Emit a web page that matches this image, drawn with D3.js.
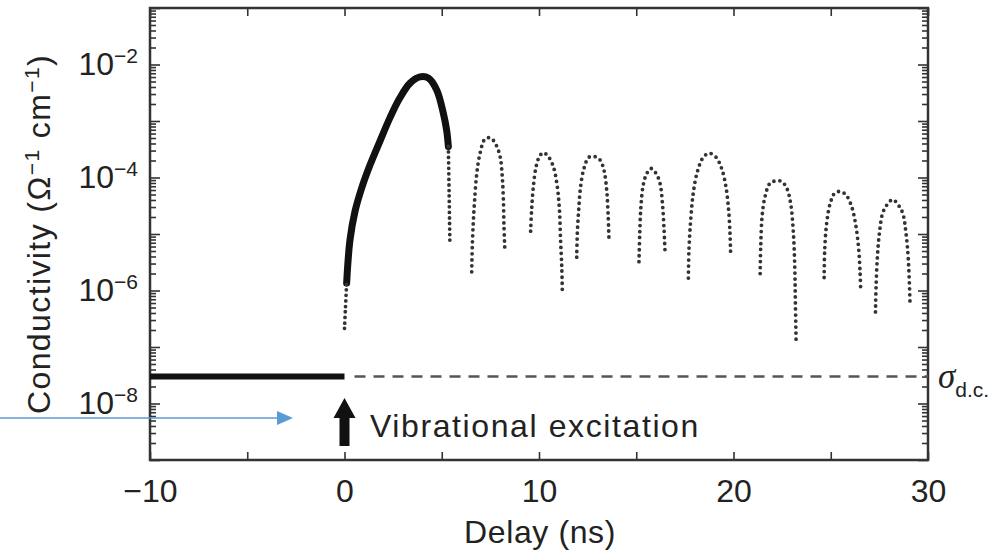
<!DOCTYPE html>
<html>
<head>
<meta charset="utf-8">
<script src="https://cdn.jsdelivr.net/npm/d3@7"></script>
<style>
  body { margin: 0; background: #fff; }
  text { font-family: "Liberation Sans", Arial, sans-serif; fill: #222; }
</style>
</head>
<body>
<div id="chart_div"></div>
<script>
// values (delay in ns, conductivity as log10 of Ohm^-1 cm^-1)
var sigmaDC = 3e-8;

var xTicks = [-10, -5, 0, 5, 10, 15, 20, 25, 30];
var yLabelExps = [-2, -4, -6, -8];

// main pulse: dotted foot, thick body, dotted tail
var footDelay = [0.0, 0.05, 0.11];
var footLog = [-6.67, -6.30, -5.87];
var peakDelay = [0.11, 0.28, 0.54, 0.88, 1.31, 1.83, 2.34, 2.85, 3.37, 3.88, 4.31, 4.74, 5.08, 5.25, 5.34];
var peakLog = [-5.87, -5.11, -4.60, -4.19, -3.78, -3.35, -2.94, -2.59, -2.33, -2.22, -2.24, -2.45, -2.86, -3.16, -3.45];
var tailDelay = [5.34, 5.38, 5.42];
var tailLog = [-3.45, -4.30, -5.19];

// the later dotted arches
var archDelays = [
  [6.54, 6.57, 6.62, 6.69, 6.80, 6.97, 7.22, 7.51, 7.79, 8.00, 8.11, 8.17, 8.20, 8.25],
  [9.57, 9.62, 9.71, 9.85, 10.02, 10.22, 10.48, 10.74, 10.94, 11.05, 11.11, 11.17, 11.20],
  [11.94, 11.97, 12.04, 12.14, 12.31, 12.57, 12.88, 13.14, 13.34, 13.48, 13.55, 13.60],
  [15.14, 15.18, 15.24, 15.36, 15.54, 15.76, 16.02, 16.22, 16.36, 16.43, 16.48],
  [17.68, 17.71, 17.80, 17.93, 18.14, 18.45, 18.76, 19.10, 19.39, 19.61, 19.75, 19.82, 19.85],
  [21.37, 21.40, 21.47, 21.62, 21.88, 22.19, 22.48, 22.74, 22.94, 23.08, 23.15, 23.18, 23.22],
  [24.66, 24.69, 24.79, 24.97, 25.22, 25.51, 25.79, 26.08, 26.30, 26.44, 26.51, 26.54],
  [27.30, 27.33, 27.40, 27.50, 27.67, 27.88, 28.19, 28.48, 28.70, 28.87, 28.99, 29.08]
];
var archLogs = [
  [-5.67, -5.22, -4.81, -4.40, -3.93, -3.57, -3.32, -3.30, -3.42, -3.63, -3.98, -4.40, -4.87, -5.33],
  [-4.95, -4.58, -4.16, -3.81, -3.63, -3.56, -3.63, -3.81, -4.16, -4.57, -5.11, -5.58, -6.04],
  [-5.41, -4.99, -4.58, -4.16, -3.84, -3.64, -3.63, -3.69, -3.87, -4.22, -4.63, -5.11],
  [-5.49, -4.99, -4.52, -4.13, -3.93, -3.84, -3.93, -4.10, -4.52, -4.93, -5.31],
  [-5.78, -5.28, -4.75, -4.28, -3.90, -3.64, -3.57, -3.64, -3.84, -4.16, -4.58, -4.99, -5.31],
  [-5.70, -5.22, -4.69, -4.34, -4.10, -4.06, -4.07, -4.19, -4.46, -4.99, -5.58, -6.17, -6.93],
  [-5.77, -5.28, -4.81, -4.46, -4.27, -4.25, -4.31, -4.52, -4.87, -5.28, -5.70, -6.00],
  [-6.38, -5.93, -5.40, -4.99, -4.63, -4.49, -4.39, -4.49, -4.63, -4.99, -5.46, -6.27]
];

var margin = {top: 8, right: 76, bottom: 94, left: 150},
    width = 1004 - margin.left - margin.right,
    height = 554 - margin.top - margin.bottom;

var x = d3.scaleLinear().domain([-10, 30]).range([0, width]);
var y = d3.scaleLog().domain([1e-9, 1e-1]).range([height, 0]);

var root = d3.select("#chart_div").append("svg")
    .attr("width", 1004)
    .attr("height", 554);

var svg = root.append("g")
    .attr("transform", "translate(" + margin.left + "," + margin.top + ")");

var line = d3.line()
    .x(function(d) { return x(d[0]); })
    .y(function(d) { return y(Math.pow(10, d[1])); })
    .curve(d3.curveCatmullRom.alpha(0.5));

// ticks, all pointing inward
var majors = y.ticks().filter(function(v) { return Math.abs(Math.log10(v) - Math.round(Math.log10(v))) < 1e-9; });
var minors = y.ticks().filter(function(v) { return majors.indexOf(v) < 0; });

function styleAxis(g) {
  g.select(".domain").remove();
  g.selectAll(".tick line").attr("stroke", "#333").attr("stroke-width", 1.6);
  g.attr("font-family", null).attr("font-size", null);
}

svg.append("g").call(d3.axisLeft(y).tickValues(majors).tickSize(-10).tickFormat("")).call(styleAxis);
svg.append("g").call(d3.axisLeft(y).tickValues(minors).tickSize(-6).tickFormat("")).call(styleAxis);
svg.append("g").attr("transform", "translate(" + width + ",0)")
    .call(d3.axisRight(y).tickValues(majors).tickSize(-10).tickFormat("")).call(styleAxis);
svg.append("g").attr("transform", "translate(" + width + ",0)")
    .call(d3.axisRight(y).tickValues(minors).tickSize(-6).tickFormat("")).call(styleAxis);
svg.append("g").call(d3.axisTop(x).tickValues(xTicks).tickSize(-8).tickFormat("")).call(styleAxis);

var xAxis = svg.append("g")
    .attr("transform", "translate(0," + height + ")")
    .call(d3.axisBottom(x).tickValues(xTicks).tickSize(-8).tickPadding(19)
      .tickFormat(function(d) { return d % 10 === 0 ? d3.format("")(d) : ""; }))
    .call(styleAxis);
xAxis.selectAll("text").attr("fill", "#222").style("font-size", "32px");

// frame
svg.append("rect")
    .attr("width", width).attr("height", height)
    .attr("fill", "none").attr("stroke", "#333").attr("stroke-width", 2.5);

// y tick labels 10^n
yLabelExps.forEach(function(e) {
  var t = svg.append("text")
      .attr("x", -12)
      .attr("y", y(Math.pow(10, e)) + 10)
      .attr("text-anchor", "end")
      .style("font-size", "32px");
  t.append("tspan").text("10");
  t.append("tspan").attr("dy", -12).style("font-size", "21px").text("\u2212" + (-e));
});

// axis titles
var yt = svg.append("text")
    .attr("transform", "translate(-100," + (height / 2) + ") rotate(-90)")
    .attr("text-anchor", "middle")
    .style("font-size", "32px")
    .style("letter-spacing", "1.4px");
yt.append("tspan").text("Conductivity (\u03A9");
yt.append("tspan").attr("dy", -11).style("font-size", "21px").text("\u22121");
yt.append("tspan").attr("dy", 11).text(" cm");
yt.append("tspan").attr("dy", -11).style("font-size", "21px").text("\u22121");
yt.append("tspan").attr("dy", 11).text(")");

svg.append("text")
    .attr("x", 390).attr("y", 535)
    .attr("text-anchor", "middle")
    .style("font-size", "32px")
    .style("letter-spacing", "0.6px")
    .text("Delay (ns)");

// sigma d.c. baseline
svg.append("line")
    .attr("x1", x(-10)).attr("x2", x(0))
    .attr("y1", y(sigmaDC)).attr("y2", y(sigmaDC))
    .attr("stroke", "#111").attr("stroke-width", 6);
svg.append("line")
    .attr("x1", x(0) + 10).attr("x2", x(30))
    .attr("y1", y(sigmaDC)).attr("y2", y(sigmaDC))
    .attr("stroke", "#555").attr("stroke-width", 2.4)
    .attr("stroke-dasharray", "11 8");

var sig = svg.append("text")
    .attr("x", 788).attr("y", 380);
sig.append("tspan").style("font-family", "'Liberation Serif', serif")
    .style("font-style", "italic").style("font-size", "35px").text("\u03C3");
sig.append("tspan").attr("dy", 9).style("font-size", "21px").text("d.c.");

// main pulse
svg.append("path")
    .attr("d", line(d3.zip(peakDelay, peakLog)))
    .attr("fill", "none").attr("stroke", "#111").attr("stroke-width", 7)
    .attr("stroke-linecap", "round");
[d3.zip(footDelay, footLog), d3.zip(tailDelay, tailLog)].forEach(function(pts) {
  svg.append("path")
      .attr("d", line(pts))
      .attr("fill", "none").attr("stroke", "#333").attr("stroke-width", 3.8)
      .attr("stroke-linecap", "round").attr("stroke-dasharray", "0 5.5");
});

// dotted arches
archDelays.forEach(function(dl, i) {
  svg.append("path")
      .attr("d", line(d3.zip(dl, archLogs[i])))
      .attr("fill", "none").attr("stroke", "#333").attr("stroke-width", 3.8)
      .attr("stroke-linecap", "round").attr("stroke-dasharray", "0 6");
});

// excitation arrow
var ax = x(0);
svg.append("path")
    .attr("d", "M" + (ax - 5) + ",438 L" + (ax - 5) + ",410 L" + (ax - 11) + ",410 L" + ax + ",390 L" +
          (ax + 11) + ",410 L" + (ax + 5) + ",410 L" + (ax + 5) + ",438 Z")
    .attr("fill", "#111");
svg.append("text")
    .attr("x", 220).attr("y", 429)
    .style("font-size", "32px")
    .style("letter-spacing", "1.6px")
    .text("Vibrational excitation");

// blue pointer drawn over the figure
root.append("line")
    .attr("x1", 0).attr("x2", 279).attr("y1", 418).attr("y2", 418)
    .attr("stroke", "#5b9bd5").attr("stroke-width", 1.5);
root.append("path")
    .attr("d", "M277,411 L293,418 L277,425 Z")
    .attr("fill", "#5b9bd5");
</script>
</body>
</html>
